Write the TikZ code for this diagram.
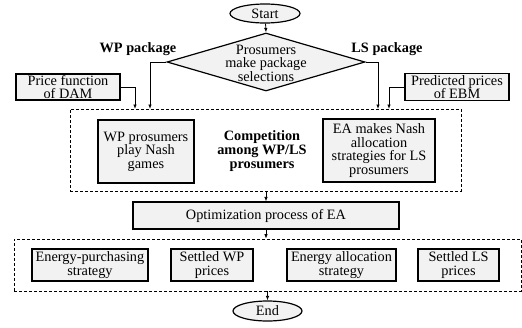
\documentclass[tikz,border=0pt]{standalone}
\usepackage{fontspec}
\setmainfont{Liberation Serif}
\usetikzlibrary{shapes.geometric,arrows.meta}
\begin{document}
\begin{tikzpicture}[x=1pt,y=-1pt,
  every node/.style={font=\fontsize{14.3}{13.6}\selectfont, inner sep=0pt, align=center},
  box/.style={draw, line width=1.2pt, fill=gray!10, rectangle},
  dbox/.style={draw, dash pattern=on 3pt off 2pt, line width=0.8pt},
  term/.style={draw, ellipse, line width=1.2pt, fill=gray!10},
  conn/.style={line width=0.8pt, -{Latex[length=4.5pt,width=3.5pt]}},
  lbl/.style={font=\fontsize{14.3}{13.6}\selectfont\bfseries}]
\useasboundingbox (0,0) rectangle (522,327);

% dashed groups
\node[dbox, minimum width=391pt, minimum height=82pt] (dash1) at (265.5,150) {};
\node[dbox, minimum width=507pt, minimum height=52pt] (dash2) at (267.5,265) {};

% terminals and decision
\node[term, minimum width=70pt, minimum height=19pt] (start) at (265,13.5) {Start};
\node[diamond, draw, line width=1.2pt, fill=gray!10, minimum width=198pt, minimum height=58pt] (dia) at (266,62) {};
\node (diat) at (266,63) {Prosumers\\make package\\selections};
\node[lbl] (wplab) at (138,49) {WP package};
\node[lbl] (lslab) at (387,49) {LS package};

% inputs
\node[box, minimum width=104pt, minimum height=26pt] (price) at (68,87) {Price function\\of DAM};
\node[box, minimum width=104pt, minimum height=27pt] (pred) at (457,87) {Predicted prices\\of EBM};

% competition block
\node[box, minimum width=96pt, minimum height=63pt] (wpbox) at (146,151.5) {WP prosumers\\play Nash\\games};
\node[lbl] (comp) at (262,151) {Competition\\among WP/LS\\prosumers};
\node[box, minimum width=112pt, minimum height=63pt] (eabox) at (379,150.5) {EA makes Nash\\allocation\\strategies for LS\\prosumers};

% optimization
\node[box, minimum width=266pt, minimum height=27pt] (opt) at (266,215.5) {Optimization process of EA};

% outputs
\node[box, minimum width=116pt, minimum height=32pt] (ep) at (90,265) {Energy-purchasing\\strategy};
\node[box, minimum width=82pt, minimum height=32pt] (swp) at (212,265) {Settled WP\\prices};
\node[box, minimum width=109pt, minimum height=32pt] (eal) at (341.5,265) {Energy allocation\\strategy};
\node[box, minimum width=81pt, minimum height=32pt] (sls) at (458.5,265) {Settled LS\\prices};

\node[term, minimum width=69pt, minimum height=20pt] (end) at (267.5,311) {End};

% arrow end points on the top of the first dashed group
\coordinate (damin) at (135,109);
\coordinate (wpin) at (150,109);
\coordinate (lsin) at (378,109);
\coordinate (ebmin) at (389,109);

% connectors
\draw[conn] (start) -- (dia.north);
\draw[conn] (dia.west) -| (wpin);
\draw[conn] (dia.east) -| (lsin);
\draw[conn] (price.east) -| (damin);
\draw[conn] (pred.west) -| (ebmin);
\draw[conn] (opt.north |- dash1.south) -- (opt.north);
\draw[conn] (opt.south) -- (opt.south |- dash2.north);
\draw[conn] (end.north |- dash2.south) -- (end.north);
\end{tikzpicture}
\end{document}
